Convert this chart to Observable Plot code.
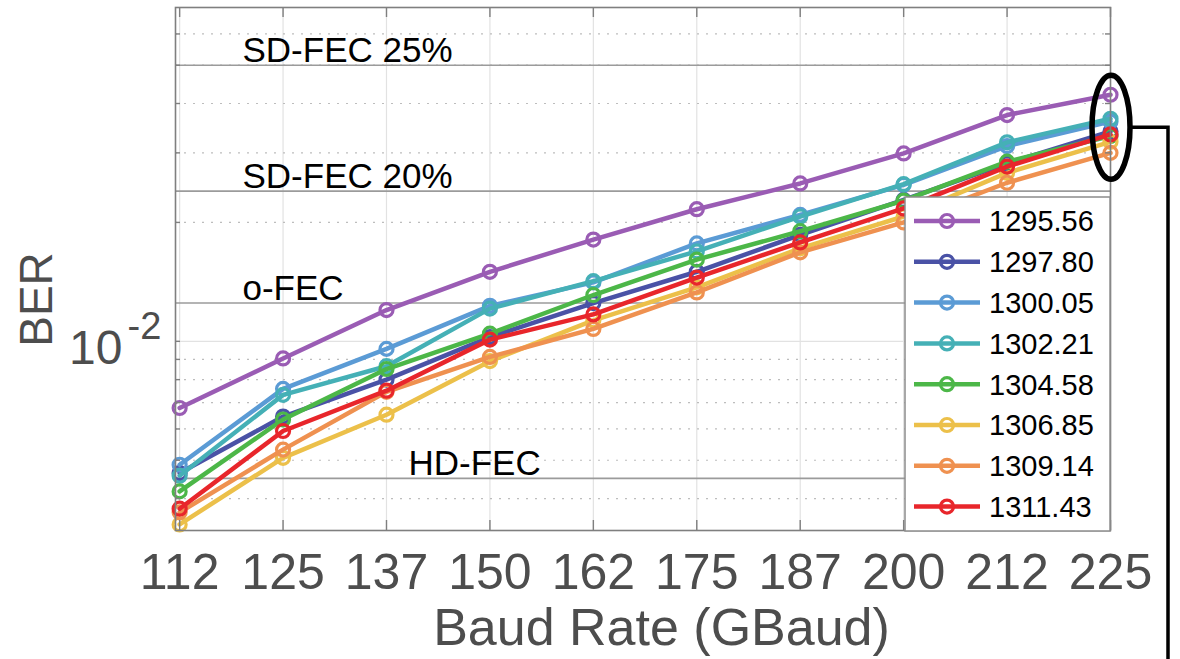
<!DOCTYPE html>
<html>
<head>
<meta charset="utf-8">
<script src="https://cdn.jsdelivr.net/npm/d3@7"></script>
<script src="https://cdn.jsdelivr.net/npm/@observablehq/plot@0.6"></script>
<style>
  html, body { margin: 0; padding: 0; background: #fff; }
  #chart svg { display: block; font-family: "Liberation Sans", Arial, sans-serif; }
</style>
</head>
<body>
<div id="chart"></div>
<script>
// ---- data ----
const baudRates = [112.5, 125, 137.5, 150, 162.5, 175, 187.5, 200, 212.5, 225];
const baudLabels = ["112", "125", "137", "150", "162", "175", "187", "200", "212", "225"];

const wavelengths = ["1295.56", "1297.80", "1300.05", "1302.21", "1304.58", "1306.85", "1309.14", "1311.43"];
const seriesColors = ["#9a5cb4", "#4a52a6", "#5b9bd5", "#45b0b6", "#4cb748", "#ecc04a", "#ef9150", "#e8262b"];

const ber1295_56 = [6.78e-3, 9.05e-3, 1.20e-2, 1.50e-2, 1.81e-2, 2.16e-2, 2.51e-2, 2.99e-2, 3.74e-2, 4.21e-2];
const ber1297_80 = [4.64e-3, 6.45e-3, 8.00e-3, 1.025e-2, 1.25e-2, 1.50e-2, 1.86e-2, 2.28e-2, 2.82e-2, 3.40e-2];
const ber1300_05 = [4.87e-3, 7.58e-3, 9.57e-3, 1.23e-2, 1.41e-2, 1.77e-2, 2.09e-2, 2.49e-2, 3.12e-2, 3.60e-2];
const ber1302_21 = [4.57e-3, 7.32e-3, 8.65e-3, 1.21e-2, 1.42e-2, 1.69e-2, 2.07e-2, 2.50e-2, 3.19e-2, 3.66e-2];
const ber1304_58 = [4.17e-3, 6.34e-3, 8.51e-3, 1.046e-2, 1.31e-2, 1.61e-2, 1.90e-2, 2.27e-2, 2.85e-2, 3.31e-2];
const ber1306_85 = [3.44e-3, 5.07e-3, 6.52e-3, 8.91e-3, 1.13e-2, 1.37e-2, 1.72e-2, 2.07e-2, 2.67e-2, 3.20e-2];
const ber1309_14 = [3.69e-3, 5.32e-3, 7.45e-3, 9.13e-3, 1.075e-2, 1.33e-2, 1.68e-2, 2.00e-2, 2.52e-2, 3.00e-2];
const ber1311_43 = [3.77e-3, 5.93e-3, 7.50e-3, 1.01e-2, 1.17e-2, 1.45e-2, 1.78e-2, 2.17e-2, 2.77e-2, 3.34e-2];
const berSeries = [ber1295_56, ber1297_80, ber1300_05, ber1302_21, ber1304_58, ber1306_85, ber1309_14, ber1311_43];

const thresholdNames = ["SD-FEC 25%", "SD-FEC 20%", "o-FEC", "HD-FEC"];
const thresholdValues = [5.0e-2, 2.4e-2, 1.25e-2, 4.5e-3];

const yDomain = [3.32e-3, 7.0e-2];
const yMajorTicks = [1e-2];
const yMinorTicks = [4e-3, 5e-3, 6e-3, 7e-3, 8e-3, 9e-3, 2e-2, 3e-2, 4e-2, 5e-2, 6e-2];
const yTickLabelBase = "10";
const yTickLabelExp = "-2";

// ---- build table ----
const rows = [];
wavelengths.forEach((w, s) => {
  berSeries[s].forEach((v, i) => rows.push({series: w, baud: baudRates[i], ber: v}));
});

const FONT = "Liberation Sans, Arial, sans-serif";
const AXIS_GRAY = "#4d4d4d";
const LINE_W = 4.5, DOT_R = 6.5, DOT_W = 3.2;

const seriesMarks = wavelengths.flatMap(w => {
  const d = rows.filter(r => r.series === w);
  return [
    Plot.line(d, {x: "baud", y: "ber", stroke: "series", strokeWidth: LINE_W, strokeLinejoin: "round"}),
    Plot.dot(d, {x: "baud", y: "ber", stroke: "series", r: DOT_R, strokeWidth: DOT_W, fill: "none"})
  ];
});

const chart = Plot.plot({
  width: 1180,
  height: 659,
  marginLeft: 175,
  marginRight: 70,
  marginTop: 7,
  marginBottom: 129,
  style: {fontFamily: FONT, background: "white"},
  x: {type: "linear", domain: [112, 225]},
  y: {type: "log", domain: yDomain},
  color: {domain: wavelengths, range: seriesColors},
  marks: [
    // grid
    Plot.ruleX(baudRates, {stroke: "#e2e2e2", strokeWidth: 1.2}),
    Plot.ruleY(yMajorTicks, {stroke: "#e2e2e2", strokeWidth: 1.2}),
    Plot.ruleY(yMinorTicks, {stroke: "#bdbdbd", strokeWidth: 1.2, strokeDasharray: "2,7"}),
    // thresholds
    Plot.ruleY(thresholdValues, {stroke: "#9b9b9b", strokeWidth: 1.6}),
    Plot.text(thresholdValues.slice(0, 3), {
      y: d => d, text: (d, i) => thresholdNames[i], frameAnchor: "left",
      dx: 67, dy: -3, textAnchor: "start", lineAnchor: "bottom", fontSize: 35, fill: "black"
    }),
    Plot.text(thresholdValues.slice(3), {
      y: d => d, text: (d, i) => thresholdNames[3 + i], frameAnchor: "left",
      dx: 233, dy: -3, textAnchor: "start", lineAnchor: "bottom", fontSize: 35, fill: "black"
    }),
    // series
    ...seriesMarks,
    // inward ticks
    Plot.ruleX(baudRates, {insetTop: 513, stroke: "#7f7f7f", strokeWidth: 1.4}),
    Plot.ruleX(baudRates, {insetBottom: 513, stroke: "#7f7f7f", strokeWidth: 1.4}),
    Plot.ruleY([...yMinorTicks, ...yMajorTicks], {insetRight: 930, stroke: "#7f7f7f", strokeWidth: 1.4}),
    Plot.ruleY([...yMinorTicks, ...yMajorTicks], {insetLeft: 930, stroke: "#7f7f7f", strokeWidth: 1.4}),
    Plot.frame({stroke: "#7f7f7f", strokeWidth: 1.6}),
    // axes
    Plot.axisX(baudRates, {
      tickSize: 0, tickPadding: 23, fontSize: 50, fill: AXIS_GRAY,
      tickFormat: d => baudLabels[baudRates.indexOf(d)], label: null
    }),
    Plot.axisY(yMajorTicks, {
      tickSize: 0, tickPadding: 53, fontSize: 48, fill: AXIS_GRAY, dy: 7,
      tickFormat: () => yTickLabelBase, label: null
    }),
    Plot.text(yMajorTicks, {
      y: d => d, text: () => yTickLabelExp, frameAnchor: "left", dx: -48, dy: -15,
      textAnchor: "start", fontSize: 38, fill: AXIS_GRAY
    })
  ]
});

document.getElementById("chart").appendChild(chart);

// ---- overlays: axis titles, legend, highlight ellipse ----
const svg = d3.select(chart);
const xs = chart.scale("x"), ys = chart.scale("y"), cs = chart.scale("color");
const frameLeft = xs.apply(112), frameRight = xs.apply(225);
const frameBottom = ys.apply(yDomain[0]), frameTop = ys.apply(yDomain[1]);

svg.append("text")
  .attr("x", (frameLeft + frameRight) / 2 + 19).attr("y", 645)
  .attr("text-anchor", "middle").attr("font-size", 52).attr("fill", AXIS_GRAY)
  .attr("font-family", FONT)
  .text("Baud Rate (GBaud)");

svg.append("text")
  .attr("transform", `translate(52,${(frameTop + frameBottom) / 2 + 31}) rotate(-90)`)
  .attr("text-anchor", "middle").attr("font-size", 46).attr("fill", AXIS_GRAY)
  .attr("font-family", FONT)
  .text("BER");

// legend
const lg = svg.append("g").attr("text-anchor", "start");
const lgRight = frameRight, lgBottom = frameBottom + 1;
const lgLeft = lgRight - 205, lgTop = lgBottom - 334;
lg.append("rect").attr("x", lgLeft).attr("y", lgTop).attr("width", lgRight - lgLeft).attr("height", lgBottom - lgTop)
  .attr("fill", "white").attr("stroke", "#8c8c8c").attr("stroke-width", 1.5);
wavelengths.forEach((w, i) => {
  const yy = lgTop + 24 + i * 40.8;
  const col = cs.apply(w);
  lg.append("line").attr("x1", lgLeft + 9).attr("x2", lgLeft + 75).attr("y1", yy).attr("y2", yy)
    .attr("stroke", col).attr("stroke-width", LINE_W);
  lg.append("circle").attr("cx", lgLeft + 42).attr("cy", yy).attr("r", DOT_R)
    .attr("fill", "none").attr("stroke", col).attr("stroke-width", DOT_W);
  lg.append("text").attr("x", lgLeft + 84).attr("y", yy).attr("dy", "0.36em")
    .attr("text-anchor", "start")
    .attr("font-size", 29).attr("fill", "black").attr("font-family", FONT).text(w);
});

// highlight ellipse at last baud rate
const lastVals = berSeries.map(s => s[s.length - 1]);
const cx = xs.apply(baudRates[baudRates.length - 1]) + 1;
const cy = (ys.apply(d3.max(lastVals)) + ys.apply(d3.min(lastVals))) / 2 + 4;
const rx = 19, ry = 52;
svg.append("ellipse").attr("cx", cx).attr("cy", cy).attr("rx", rx).attr("ry", ry)
  .attr("fill", "none").attr("stroke", "black").attr("stroke-width", 5.5);
svg.append("path")
  .attr("d", `M${cx + rx + 2},${cy}H${cx + 57}V659`)
  .attr("fill", "none").attr("stroke", "black").attr("stroke-width", 3.5);
</script>
</body>
</html>
